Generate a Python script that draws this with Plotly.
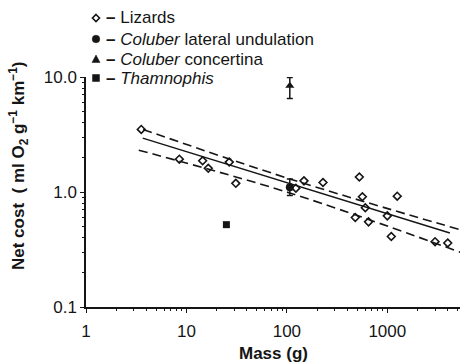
import plotly.graph_objects as go

# ---------------- data ----------------
liz_mass = [3.55, 8.5, 14.5, 16.5, 26.7, 31, 123, 148, 229, 480, 527, 565, 604, 650, 1000, 1096, 1256, 2990, 4000]
liz_cost = [3.5, 1.93, 1.87, 1.61, 1.82, 1.19, 1.08, 1.25, 1.21, 0.60, 1.35, 0.91, 0.73, 0.55, 0.62, 0.41, 0.92, 0.37, 0.36]

lat_mass = [107]
lat_cost = [1.1]
lat_hi = [1.3]
lat_lo = [0.93]

conc_mass = [107]
conc_cost = [8.4]
conc_hi = [9.9]
conc_lo = [6.5]

tham_mass = [25]
tham_cost = [0.52]

fit_mass = [3.67, 4200]
fit_cost = [2.94, 0.44]
upper_mass = [3.7, 107, 5300]
upper_cost = [3.5, 1.3, 0.47]
lower_mass = [3.35, 107, 5300]
lower_cost = [2.31, 0.98, 0.30]

x_tick_vals = [1, 10, 100, 1000]
x_tick_labels = ["1", "10", "100", "1000"]
y_tick_vals = [0.1, 1, 10]
y_tick_labels = ["0.1", "1.0", "10.0"]

legend_labels = ["<b>–</b> Lizards",
                 "<b>–</b> <i>Coluber</i> lateral undulation",
                 "<b>–</b> <i>Coluber</i> concertina",
                 "<b>–</b> <i>Thamnophis</i>"]

# ---------------- layout geometry ----------------
W, H = 461, 362
L, R, T, B = 86, 1, 77, 55
PW, PH = W - L - R, H - T - B
INK = "#151515"
FONT = "Liberation Sans, Arial, Helvetica, sans-serif"


def px_x(p):
    return (p - L) / PW


def px_y(p):
    return (H - B - p) / PH


fig = go.Figure()

# regression and confidence lines
fig.add_trace(go.Scatter(x=fit_mass, y=fit_cost, mode="lines",
                         line=dict(color=INK, width=1.5), hoverinfo="skip"))
for xs, ys in ((upper_mass, upper_cost), (lower_mass, lower_cost)):
    fig.add_trace(go.Scatter(x=xs, y=ys, mode="lines",
                             line=dict(color=INK, width=1.6, dash="9px,5px", shape="spline"),
                             hoverinfo="skip"))

# data points
fig.add_trace(go.Scatter(x=liz_mass, y=liz_cost, mode="markers", name="Lizards",
                         marker=dict(symbol="diamond-open", size=6, color=INK,
                                     line=dict(width=1.6, color=INK))))
fig.add_trace(go.Scatter(x=lat_mass, y=lat_cost, mode="markers",
                         marker=dict(symbol="circle", size=8, color=INK),
                         error_y=dict(type="data", symmetric=False,
                                      array=[h - v for h, v in zip(lat_hi, lat_cost)],
                                      arrayminus=[v - l for l, v in zip(lat_lo, lat_cost)],
                                      width=3, thickness=1.5, color=INK)))
fig.add_trace(go.Scatter(x=conc_mass, y=conc_cost, mode="markers",
                         marker=dict(symbol="triangle-up", size=8, color=INK),
                         error_y=dict(type="data", symmetric=False,
                                      array=[h - v for h, v in zip(conc_hi, conc_cost)],
                                      arrayminus=[v - l for l, v in zip(conc_lo, conc_cost)],
                                      width=3, thickness=1.5, color=INK)))
fig.add_trace(go.Scatter(x=tham_mass, y=tham_cost, mode="markers",
                         marker=dict(symbol="square", size=7, color=INK)))

# manual legend: pixel-sized symbol shapes + text annotations
leg_rows = [18, 39, 59, 78]
sym_x = px_x(96)
shapes = []
# diamond (open)
shapes.append(dict(type="path", xref="paper", yref="paper", xsizemode="pixel", ysizemode="pixel",
                   xanchor=sym_x, yanchor=px_y(leg_rows[0]),
                   path="M 0,3.5 L 3.5,0 L 0,-3.5 L -3.5,0 Z",
                   line=dict(color=INK, width=1.6), fillcolor="rgba(0,0,0,0)"))
# circle
shapes.append(dict(type="circle", xref="paper", yref="paper", xsizemode="pixel", ysizemode="pixel",
                   xanchor=sym_x, yanchor=px_y(leg_rows[1]), x0=-3.8, x1=3.8, y0=-3.8, y1=3.8,
                   line=dict(color=INK, width=0.5), fillcolor=INK))
# triangle
shapes.append(dict(type="path", xref="paper", yref="paper", xsizemode="pixel", ysizemode="pixel",
                   xanchor=sym_x, yanchor=px_y(leg_rows[2]),
                   path="M -4,-3.5 L 4,-3.5 L 0,4 Z",
                   line=dict(color=INK, width=0.5), fillcolor=INK))
# square
shapes.append(dict(type="rect", xref="paper", yref="paper", xsizemode="pixel", ysizemode="pixel",
                   xanchor=sym_x, yanchor=px_y(leg_rows[3]), x0=-3.5, x1=3.5, y0=-3.5, y1=3.5,
                   line=dict(color=INK, width=0.5), fillcolor=INK))

annotations = []
for row, lab in zip(leg_rows, legend_labels):
    annotations.append(dict(text=lab, xref="paper", yref="paper", x=px_x(104), y=px_y(row),
                            xanchor="left", yanchor="middle", showarrow=False,
                            font=dict(family=FONT, size=17, color=INK)))

annotations.append(dict(text="<b>Mass (g)</b>", xref="paper", yref="paper",
                        x=px_x(273), y=px_y(353), xanchor="center", yanchor="middle",
                        showarrow=False, font=dict(family=FONT, size=17, color=INK)))
annotations.append(dict(text="<b>Net cost  ( ml O<sub>2</sub> g<sup>−1</sup> km<sup>−1</sup>)</b>",
                        xref="paper", yref="paper", x=px_x(18), y=px_y(166),
                        xanchor="center", yanchor="middle", textangle=-90,
                        showarrow=False, font=dict(family=FONT, size=17, color=INK)))

axis_common = dict(showgrid=False, zeroline=False, showline=True, linecolor=INK, linewidth=1.5,
                   ticks="outside", ticklen=4, tickwidth=1.3, tickcolor=INK,
                   tickfont=dict(family=FONT, size=17, color=INK),
                   minor=dict(ticks="outside", ticklen=2, tickwidth=1, tickcolor=INK,
                              dtick="D1", showgrid=False))

fig.update_layout(
    width=W, height=H, showlegend=False,
    margin=dict(l=L, r=R, t=T, b=B, pad=0),
    paper_bgcolor="white", plot_bgcolor="white",
    xaxis=dict(type="log", range=[0, 3.724], tickmode="array", tickvals=x_tick_vals,
               ticktext=x_tick_labels, ticklabelstandoff=4, **axis_common),
    yaxis=dict(type="log", range=[-1, 1], tickmode="array", tickvals=y_tick_vals,
               ticktext=y_tick_labels, ticklabelstandoff=0, **axis_common),
    annotations=annotations,
    shapes=shapes,
)

fig.write_html("out.html", config={"displayModeBar": False},
               post_script="document.body.style.margin='0';document.body.style.overflow='hidden';")
